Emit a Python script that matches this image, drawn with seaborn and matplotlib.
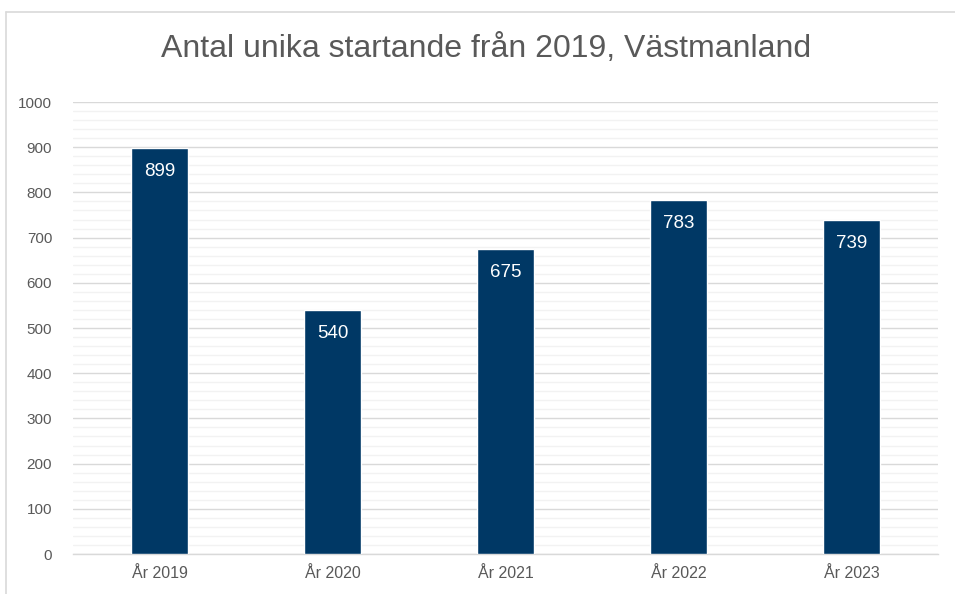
import matplotlib
matplotlib.use("Agg")
import matplotlib.pyplot as plt
import seaborn as sns
import pandas as pd
from matplotlib.ticker import MultipleLocator
from matplotlib.lines import Line2D

categories = ["År 2019", "År 2020", "År 2021", "År 2022", "År 2023"]
values = [899, 540, 675, 783, 739]
title = "Antal unika startande från 2019, Västmanland"

sns.set_theme(style="white")
plt.rcParams['font.family'] = ['Liberation Sans', 'DejaVu Sans']

df = pd.DataFrame({"cat": categories, "val": values})

fig = plt.figure(figsize=(9.55, 5.94), dpi=100)
ax = fig.add_axes([73/955, 1-554/594, (938-73)/955, (554-102)/594])

sns.barplot(data=df, x="cat", y="val", color="#003865", width=0.335,
            saturation=1, ax=ax, zorder=3)

ax.set_ylim(0, 1000)
ax.set_xlim(-0.5, len(categories) - 0.5)
ax.yaxis.set_major_locator(MultipleLocator(100))
ax.yaxis.set_minor_locator(MultipleLocator(20))
ax.grid(which="major", axis="y", color="#d9d9d9", linewidth=1.0, zorder=0)
ax.grid(which="minor", axis="y", color="#f2f2f2", linewidth=1.0, zorder=0)
ax.set_axisbelow(True)
for s in ["top", "right", "left"]:
    ax.spines[s].set_visible(False)
ax.spines["bottom"].set_color("#d9d9d9")
ax.spines["bottom"].set_linewidth(1.0)

ax.set_xlabel("")
ax.set_ylabel("")
ax.tick_params(axis="y", which="both", length=0, pad=15, labelsize=11, labelcolor="#595959")
ax.tick_params(axis="x", length=0, pad=9, labelsize=11.5, labelcolor="#595959")

for p, v in zip(ax.patches, values):
    ax.annotate(str(v), (p.get_x() + p.get_width() / 2, p.get_height()),
                xytext=(0, -17), textcoords="offset points",
                ha="center", va="center", color="white", fontsize=13.5)

fig.text(0.5 * (163 + 810) / 955, 1 - 49/594, title, ha="center", va="center",
         fontsize=23, color="#595959")

# outer border lines
fig.add_artist(Line2D([6/955, 6/955], [0, 1 - 12/594], transform=fig.transFigure,
                      color="#d9d9d9", linewidth=1.2))
fig.add_artist(Line2D([6/955, 1], [1 - 12/594, 1 - 12/594], transform=fig.transFigure,
                      color="#d9d9d9", linewidth=1.2))

fig.savefig("out.png", dpi=100, facecolor="white")
